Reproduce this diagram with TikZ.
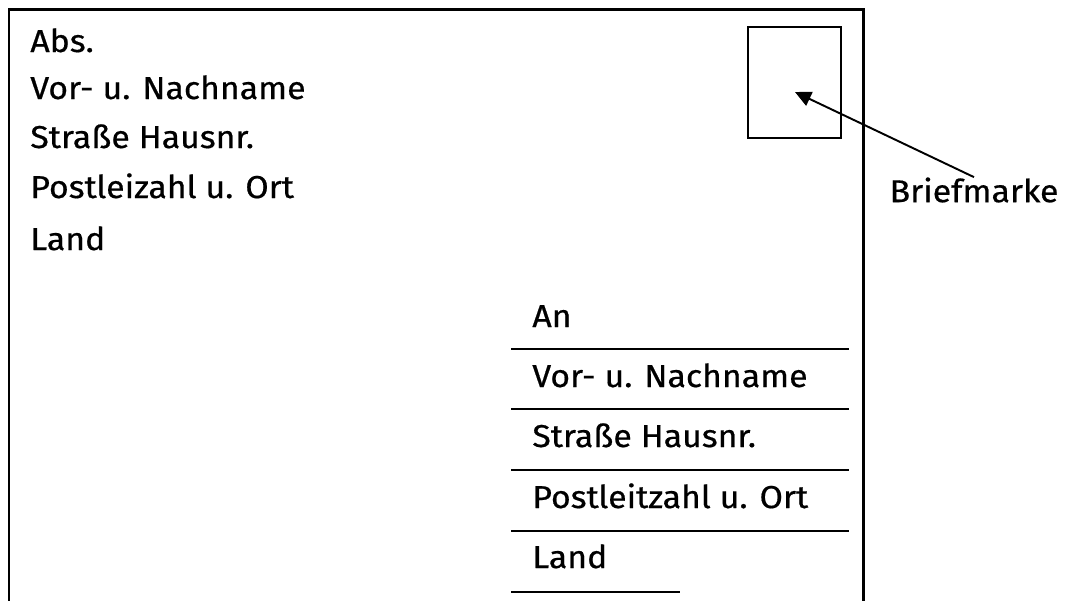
\documentclass[tikz,border=0pt]{standalone}
\usepackage{fontspec}
\setmainfont{Fira Sans}[FakeStretch=1.07,FakeBold=0.6]
\usetikzlibrary{arrows.meta,positioning}
\tikzset{
  addr/.style={anchor=base west,inner sep=0pt,font=\fontsize{18}{20}\selectfont},
  rule/.style={line width=0.8pt},
}

\begin{document}
\begin{tikzpicture}[x=0.02cm,y=-0.02cm,>={Triangle[length=0.32cm,width=0.3cm]}]
  \useasboundingbox (0,0) rectangle (1070,600);
  % envelope, cut off at the bottom
  \draw[line width=1.7pt] (9,610) -- (9,9) -- (863,9) -- (863,610);
  % stamp
  \draw[line width=1.1pt] (748,27) rectangle (841,138);
  \coordinate (stamp) at (795,92);
  \node[font=\fontsize{18}{20}\selectfont,inner sep=0pt] (marke) at (974,190) {Briefmarke};
  \draw[->,line width=1.1pt] (marke.north) -- (stamp);
  % sender
  \node[addr] (abs) at (30,52) {Abs.};
  \node[addr] (sname) at (30,99) {Vor- u. Nachname};
  \node[addr] (sstr) at (30,148) {Straße Hausnr.};
  \node[addr] (sort) at (30,198) {Postleizahl u. Ort};
  \node[addr] (sland) at (30,250) {Land};
  % recipient
  \node[addr] (an) at (532,327) {An};
  \node[addr] (rname) at (532,387) {Vor- u. Nachname};
  \node[addr] (rstr) at (532,447) {Straße Hausnr.};
  \node[addr] (rort) at (532,508) {Postleitzahl u. Ort};
  \node[addr] (rland) at (532,568) {Land};
  \foreach \y in {349,409,470,531}
    \draw[rule] (511,\y) -- (849,\y);
  \draw[rule] (511,592) -- (680,592);
\end{tikzpicture}
\end{document}
